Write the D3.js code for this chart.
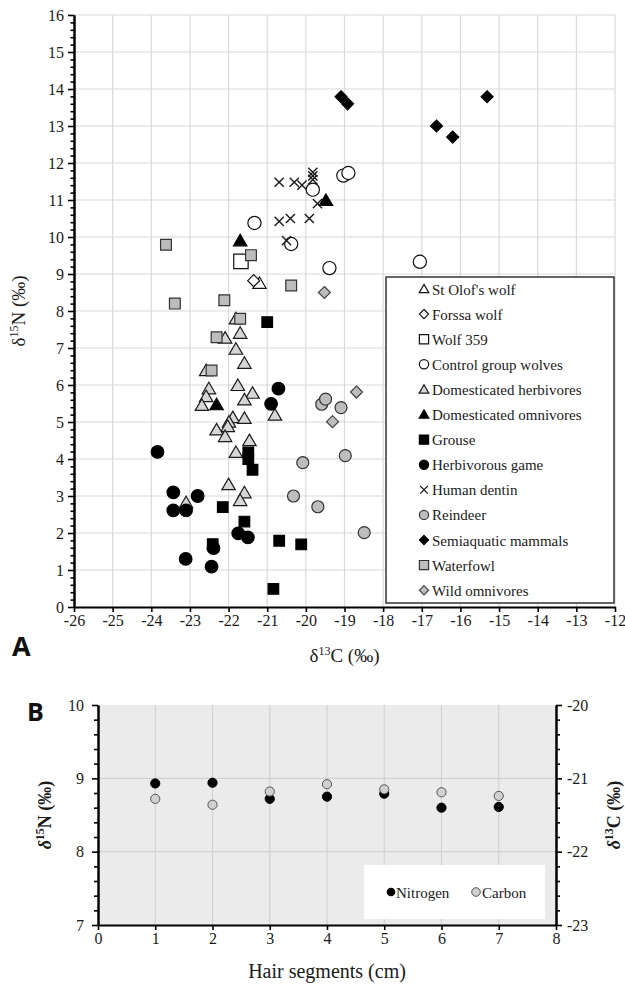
<!DOCTYPE html>
<html>
<head>
<meta charset="utf-8">
<script src="https://cdn.jsdelivr.net/npm/d3@7"></script>
<style>
  body { margin: 0; background: #fff; }
  svg { display: block; }
</style>
</head>
<body>
<svg id="chart" width="625" height="986"></svg>
<script>
// ---- Panel A data: [d13C, d15N] per group ----
var stOlofWolf = [[-21.2, 8.75]];
var forssaWolf = [[-21.35, 8.82]];
var wolf359 = [[-21.68, 9.34]];
var controlWolves = [[-19.82, 11.28], [-19.03, 11.66], [-18.9, 11.73], [-21.33, 10.38], [-20.38, 9.81], [-19.39, 9.16], [-17.05, 9.33]];
var domHerbivores = [[-21.81, 7.79], [-21.7, 7.4], [-22.09, 7.27], [-21.81, 6.97], [-21.59, 6.59], [-22.58, 6.39],
  [-21.76, 5.99], [-22.51, 5.9], [-21.38, 5.78], [-22.58, 5.69], [-21.59, 5.6], [-22.69, 5.45], [-20.8, 5.19],
  [-21.89, 5.12], [-21.59, 5.1], [-21.99, 5.0], [-22.02, 4.88], [-22.31, 4.79], [-22.09, 4.61], [-21.46, 4.5],
  [-21.81, 4.18], [-22.0, 3.31], [-21.59, 3.09], [-21.7, 2.88], [-23.1, 2.82]];
var domOmnivores = [[-19.48, 10.99], [-21.7, 9.9], [-22.31, 5.47]];
var grouse = [[-21.0, 7.7], [-21.49, 4.18], [-21.49, 4.0], [-21.38, 3.71], [-22.15, 2.7], [-21.59, 2.31],
  [-22.41, 1.7], [-20.69, 1.79], [-20.12, 1.69], [-20.84, 0.49]];
var herbGame = [[-23.84, 4.19], [-23.43, 3.1], [-22.8, 3.0], [-23.43, 2.61], [-23.1, 2.61], [-21.75, 1.99],
  [-21.5, 1.88], [-22.39, 1.59], [-23.11, 1.3], [-22.44, 1.09], [-20.71, 5.9], [-20.9, 5.49]];
var humanDentin = [[-20.69, 11.48], [-20.3, 11.48], [-20.1, 11.4], [-19.82, 11.75], [-19.82, 11.65], [-19.82, 11.55],
  [-19.7, 10.9], [-20.69, 10.42], [-20.4, 10.5], [-19.91, 10.5], [-20.5, 9.9]];
var reindeer = [[-19.59, 5.48], [-19.49, 5.62], [-19.09, 5.39], [-18.98, 4.09], [-20.08, 3.9], [-20.32, 3.0],
  [-19.69, 2.71], [-18.49, 2.01]];
var semiaquatic = [[-19.09, 13.79], [-18.92, 13.6], [-16.62, 13.0], [-16.2, 12.7], [-15.31, 13.79]];
var waterfowl = [[-23.62, 9.79], [-21.42, 9.51], [-20.38, 8.69], [-23.39, 8.2], [-22.11, 8.29], [-21.7, 7.79],
  [-22.31, 7.29], [-22.44, 6.39]];
var wildOmnivores = [[-19.52, 8.5], [-18.69, 5.81], [-19.31, 5.01]];

var groupNames = ["St Olof's wolf", "Forssa wolf", "Wolf 359", "Control group wolves", "Domesticated herbivores",
  "Domesticated omnivores", "Grouse", "Herbivorous game", "Human dentin", "Reindeer", "Semiaquatic mammals",
  "Waterfowl", "Wild omnivores"];
var groupData = [stOlofWolf, forssaWolf, wolf359, controlWolves, domHerbivores, domOmnivores, grouse, herbGame,
  humanDentin, reindeer, semiaquatic, waterfowl, wildOmnivores];

// ---- Panel B data ----
var segments = [1, 2, 3, 4, 5, 6, 7];
var nitrogen = [8.93, 8.94, 8.72, 8.75, 8.79, 8.6, 8.61];
var carbon = [-21.28, -21.36, -21.18, -21.08, -21.15, -21.19, -21.24];

// marker styles, in the same order as groupNames
var styles = [
  {shape: "triangle", fill: "#fff", stroke: "#111", s: 6.3},
  {shape: "diamond", fill: "#fff", stroke: "#111", s: 6},
  {shape: "square", fill: "#fff", stroke: "#111", s: 7.2},
  {shape: "circle", fill: "#fff", stroke: "#111", s: 6.6},
  {shape: "triangle", fill: "#d6d6d6", stroke: "#1a1a1a", s: 6.4},
  {shape: "triangle", fill: "#000", stroke: "#000", s: 6.4},
  {shape: "square", fill: "#000", stroke: "#000", s: 5.3},
  {shape: "circle", fill: "#000", stroke: "#000", s: 6.3},
  {shape: "times", fill: "none", stroke: "#1a1a1a", s: 4.6},
  {shape: "circle", fill: "#bdbdbd", stroke: "#333", s: 6},
  {shape: "diamond", fill: "#000", stroke: "#000", s: 6},
  {shape: "square", fill: "#bdbdbd", stroke: "#333", s: 5.4},
  {shape: "diamond", fill: "#bdbdbd", stroke: "#444", s: 6}
];

var SERIF = "'Liberation Serif', 'DejaVu Serif', serif";
var SANS = "'Open Sans', 'DejaVu Sans', sans-serif";

function serif(sel, size) {
  return sel.style("font-family", SERIF).style("font-size", size + "px").attr("fill", "#1a1a1a");
}

function shapePath(shape, s) {
  var p = d3.path();
  if (shape === "circle") { p.arc(0, 0, s, 0, 2 * Math.PI); }
  else if (shape === "square") { p.rect(-s, -s, 2 * s, 2 * s); }
  else if (shape === "diamond") { p.moveTo(0, -s); p.lineTo(s, 0); p.lineTo(0, s); p.lineTo(-s, 0); p.closePath(); }
  else if (shape === "triangle") { p.moveTo(0, -s); p.lineTo(s * 1.05, s * 0.8); p.lineTo(-s * 1.05, s * 0.8); p.closePath(); }
  else if (shape === "times") { p.moveTo(-s, -s); p.lineTo(s, s); p.moveTo(-s, s); p.lineTo(s, -s); }
  return p.toString();
}

function styleAxis(ax) {
  ax.attr("font-family", null);
  ax.select(".domain").attr("stroke", "#000").attr("stroke-width", 2);
  ax.selectAll(".tick line").attr("stroke", "#000").attr("stroke-width", 1.6);
  serif(ax.selectAll(".tick text"), 16);
}

var plain = function(d) { return String(d); };

var svg = d3.select("#chart");

// ================= Panel A =================
var xA = d3.scaleLinear().domain([-26, -12]).range([74, 615]);
var yA = d3.scaleLinear().domain([0, 16]).range([607, 15]);

var gA = svg.append("g");

// grid
gA.append("g").selectAll("line").data(d3.range(-25, -11)).enter().append("line")
  .attr("x1", function(d) { return xA(d); }).attr("x2", function(d) { return xA(d); })
  .attr("y1", yA(0)).attr("y2", yA(16))
  .attr("stroke", "#d9d9d9").attr("stroke-width", 1.2);
gA.append("g").selectAll("line").data(d3.range(1, 17)).enter().append("line")
  .attr("x1", xA(-26)).attr("x2", xA(-12))
  .attr("y1", function(d) { return yA(d); }).attr("y2", function(d) { return yA(d); })
  .attr("stroke", "#d9d9d9").attr("stroke-width", 1.2);

// points
groupData.forEach(function(data, i) {
  var st = styles[i];
  gA.append("g").selectAll("path").data(data).enter().append("path")
    .attr("d", shapePath(st.shape, st.s))
    .attr("transform", function(d) { return "translate(" + xA(d[0]) + "," + yA(d[1]) + ")"; })
    .attr("fill", st.fill)
    .attr("stroke", st.stroke)
    .attr("stroke-width", st.shape === "times" ? 1.4 : 1.2);
});

// axes
var yAxisA = gA.append("g").attr("transform", "translate(" + xA(-26) + ",0)")
  .call(d3.axisLeft(yA).tickValues(d3.range(0, 17)).tickFormat(plain).tickSize(6).tickSizeOuter(0).tickPadding(4));
var yMinorA = gA.append("g").attr("transform", "translate(" + xA(-26) + ",0)")
  .call(d3.axisLeft(yA).tickValues(d3.range(0, 80).map(function(i) { return i * 0.2; })
    .filter(function(v, i) { return i % 5 !== 0; })).tickSize(3.5).tickSizeOuter(0).tickFormat(""));
var xAxisA = gA.append("g").attr("transform", "translate(0," + yA(0) + ")")
  .call(d3.axisBottom(xA).tickValues(d3.range(-26, -11)).tickFormat(plain).tickSize(5).tickSizeOuter(0).tickPadding(3));
[yAxisA, yMinorA, xAxisA].forEach(styleAxis);

// axis titles
var yTitleA = serif(gA.append("text"), 19)
  .attr("transform", "translate(25," + ((yA(0) + yA(16)) / 2) + ") rotate(-90)")
  .attr("text-anchor", "middle");
yTitleA.append("tspan").text("\u03B4");
yTitleA.append("tspan").attr("dy", -7).style("font-size", "12px").text("15");
yTitleA.append("tspan").attr("dy", 7).text("N (\u2030)");

var xTitleA = serif(gA.append("text"), 19)
  .attr("x", (xA(-26) + xA(-12)) / 2).attr("y", 662)
  .attr("text-anchor", "middle");
xTitleA.append("tspan").text("\u03B4");
xTitleA.append("tspan").attr("dy", -7).style("font-size", "12px").text("13");
xTitleA.append("tspan").attr("dy", 7).text("C (\u2030)");

gA.append("text").attr("x", 12).attr("y", 656)
  .style("font-family", SANS).style("font-weight", "bold")
  .style("font-size", "27px").attr("fill", "#111").text("A");

// legend
var legA = gA.append("g");
legA.append("rect").attr("x", 386).attr("y", 277).attr("width", 228).attr("height", 326)
  .attr("fill", "#fff").attr("stroke", "#333").attr("stroke-width", 1.5);
var legItems = legA.selectAll("g").data(groupNames).enter().append("g")
  .attr("transform", function(d, i) { return "translate(424," + (289 + i * 25.1) + ")"; });
legItems.append("path")
  .attr("d", function(d, i) { return shapePath(styles[i].shape, styles[i].shape === "times" ? 3.8 : 4.6); })
  .attr("fill", function(d, i) { return styles[i].fill; })
  .attr("stroke", function(d, i) { return styles[i].stroke; })
  .attr("stroke-width", 1.2);
serif(legItems.append("text"), 15).attr("x", 8).attr("y", 5.5).text(function(d) { return d; });

// ================= Panel B =================
var xB = d3.scaleLinear().domain([0, 8]).range([98, 556]);
var yN = d3.scaleLinear().domain([7, 10]).range([925, 705]);
var yC = d3.scaleLinear().domain([-23, -20]).range([925, 705]);

var gB = svg.append("g");
gB.append("rect").attr("x", xB(0)).attr("y", yN(10)).attr("width", xB(8) - xB(0)).attr("height", yN(7) - yN(10))
  .attr("fill", "#ebebeb");
gB.append("g").selectAll("line").data(d3.range(1, 8)).enter().append("line")
  .attr("x1", function(d) { return xB(d); }).attr("x2", function(d) { return xB(d); })
  .attr("y1", yN(7)).attr("y2", yN(10)).attr("stroke", "#d2d2d2").attr("stroke-width", 1.2);
gB.append("g").selectAll("line").data([8, 9]).enter().append("line")
  .attr("x1", xB(0)).attr("x2", xB(8))
  .attr("y1", function(d) { return yN(d); }).attr("y2", function(d) { return yN(d); })
  .attr("stroke", "#d2d2d2").attr("stroke-width", 1.2);

// legend box (drawn under the points)
gB.append("rect").attr("x", 364).attr("y", 865).attr("width", 181).attr("height", 54).attr("fill", "#fff");

var minorB = d3.range(0, 16).map(function(i) { return i * 0.2; }).filter(function(v, i) { return i % 5 !== 0; });
var leftB = gB.append("g").attr("transform", "translate(" + xB(0) + ",0)")
  .call(d3.axisLeft(yN).tickValues([7, 8, 9, 10]).tickFormat(plain).tickSize(6).tickSizeOuter(0).tickPadding(8));
var leftMinorB = gB.append("g").attr("transform", "translate(" + xB(0) + ",0)")
  .call(d3.axisLeft(yN).tickValues(minorB.map(function(v) { return 7 + v; })).tickSize(4).tickSizeOuter(0).tickFormat(""));
var rightB = gB.append("g").attr("transform", "translate(" + xB(8) + ",0)")
  .call(d3.axisRight(yC).tickValues([-23, -22, -21, -20]).tickFormat(plain).tickSize(6).tickSizeOuter(0).tickPadding(5));
var rightMinorB = gB.append("g").attr("transform", "translate(" + xB(8) + ",0)")
  .call(d3.axisRight(yC).tickValues(minorB.map(function(v) { return -23 + v; })).tickSize(4).tickSizeOuter(0).tickFormat(""));
var bottomB = gB.append("g").attr("transform", "translate(0," + yN(7) + ")")
  .call(d3.axisBottom(xB).tickValues(d3.range(0, 9)).tickFormat(plain).tickSize(5).tickSizeOuter(0).tickPadding(3));
[leftB, leftMinorB, rightB, rightMinorB, bottomB].forEach(styleAxis);

// points
gB.append("g").selectAll("circle").data(segments).enter().append("circle")
  .attr("cx", function(d) { return xB(d); })
  .attr("cy", function(d, i) { return yN(nitrogen[i]); })
  .attr("r", 4.6).attr("fill", "#000").attr("stroke", "#000");
gB.append("g").selectAll("circle").data(segments).enter().append("circle")
  .attr("cx", function(d) { return xB(d); })
  .attr("cy", function(d, i) { return yC(carbon[i]); })
  .attr("r", 4.6).attr("fill", "#d0d0d0").attr("stroke", "#555").attr("stroke-width", 1);

// legend entries
var legB = gB.append("g").attr("transform", "translate(0,892)");
legB.append("circle").attr("cx", 391).attr("cy", 0).attr("r", 4.3).attr("fill", "#000");
serif(legB.append("text"), 15).attr("x", 396).attr("y", 5.5).text("Nitrogen");
legB.append("circle").attr("cx", 476).attr("cy", 0).attr("r", 4.3).attr("fill", "#d0d0d0").attr("stroke", "#555");
serif(legB.append("text"), 15).attr("x", 482).attr("y", 5.5).text("Carbon");

// titles
var yTitleB = serif(gB.append("text"), 18)
  .attr("transform", "translate(51," + ((yN(7) + yN(10)) / 2) + ") rotate(-90)")
  .attr("text-anchor", "middle").style("font-weight", "bold");
yTitleB.append("tspan").style("font-style", "italic").text("\u03B4");
yTitleB.append("tspan").attr("dy", -7).style("font-size", "12px").text("15");
yTitleB.append("tspan").attr("dy", 7).text("N (\u2030)");

var y2TitleB = serif(gB.append("text"), 18)
  .attr("transform", "translate(620," + ((yN(7) + yN(10)) / 2) + ") rotate(-90)")
  .attr("text-anchor", "middle").style("font-weight", "bold");
y2TitleB.append("tspan").style("font-style", "italic").text("\u03B4");
y2TitleB.append("tspan").attr("dy", -7).style("font-size", "12px").text("13");
y2TitleB.append("tspan").attr("dy", 7).text("C (\u2030)");

serif(gB.append("text"), 20).attr("x", (xB(0) + xB(8)) / 2).attr("y", 978)
  .attr("text-anchor", "middle").text("Hair segments (cm)");

gB.append("text").attr("x", 27).attr("y", 721)
  .style("font-family", SANS).style("font-weight", "bold")
  .style("font-size", "25px").attr("fill", "#111").text("B");
</script>
</body>
</html>
